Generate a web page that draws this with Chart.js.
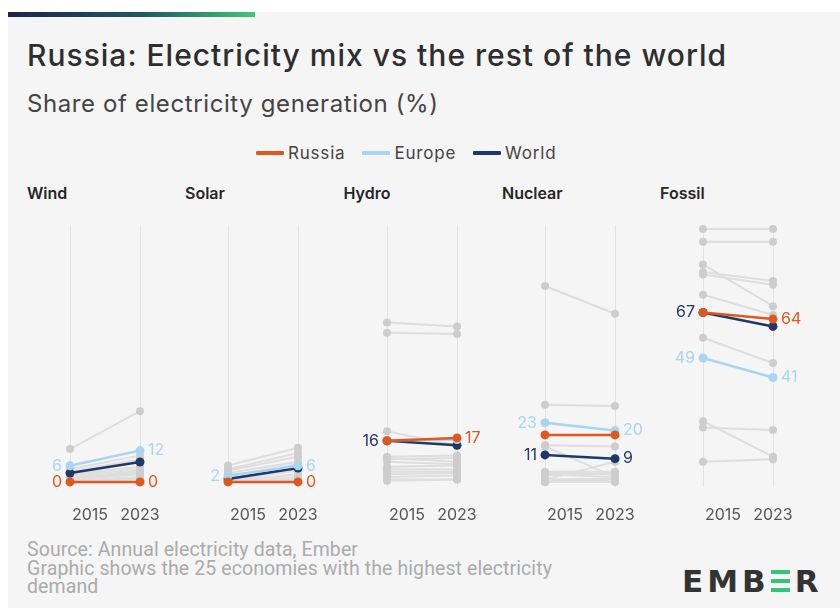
<!DOCTYPE html>
<html>
<head>
<meta charset="utf-8">
<script src="https://cdn.jsdelivr.net/npm/chart.js@4.4.1/dist/chart.umd.min.js"></script>
<style>
  body { margin: 0; background: #fff; font-family: Inter, "Noto Sans", sans-serif; }
  #card { position: absolute; left: 8px; top: 12px; width: 832px; height: 596px; background: #f5f5f5; }
  #bar { position: absolute; left: 8px; top: 12px; width: 247px; height: 5px;
         background: linear-gradient(90deg, #1d2450 0%, #1f5a63 55%, #44c479 100%); }
  .abs { position: absolute; white-space: nowrap; }
  #title { left: 27px; top: 37px; font-size: 30px; font-weight: 500; color: #2e2e2e; line-height: 36px; letter-spacing: 1px; }
  #subtitle { left: 27px; top: 89px; font-size: 24px; color: #444; line-height: 30px; letter-spacing: 0.6px; }
  #legend { left: 256px; top: 142px; font-size: 17px; color: #444; line-height: 22px; display: flex; letter-spacing: 0.8px; }
  #legend span.item { display: flex; align-items: center; margin-right: 17px; }
  #legend i { display: inline-block; width: 28px; height: 4px; border-radius: 1px; margin-right: 4px; }
  .ptitle { top: 183px; font-size: 16px; font-weight: 600; color: #262626; line-height: 20px; }
  canvas { position: absolute; top: 210px; }
  #foot { left: 27px; top: 541px; font-family: Roboto, sans-serif; font-size: 19.5px; color: #ababab;
          line-height: 18.5px; letter-spacing: 0.1px; }
  #logo { left: 682px; top: 563px; font-family: "DejaVu Sans", sans-serif; font-weight: bold;
          font-size: 31px; color: #333; letter-spacing: 4px; line-height: 36px; }
  #logo .e { color: transparent;
             background: repeating-linear-gradient(180deg, #35c47a 0 4px, transparent 4px 9px);
             background-size: 19px 23px; background-repeat: no-repeat; background-position: 1px 7px; }
</style>
</head>
<body>
<div id="card"></div>
<div id="bar"></div>
<div id="title" class="abs">Russia: Electricity mix vs the rest of the world</div>
<div id="subtitle" class="abs">Share of electricity generation (%)</div>
<div id="legend" class="abs"></div>
<div id="panels"></div>
<div id="foot" class="abs">Source: Annual electricity data, Ember<br>Graphic shows the 25 economies with the highest electricity<br>demand</div>
<div id="logo" class="abs">EMB<span class="e">E</span>R</div>

<script>
const years = [2015, 2023];
const panels = ['Wind', 'Solar', 'Hydro', 'Nuclear', 'Fossil'];
const seriesNames = ['Russia', 'Europe', 'World'];

// share of generation (%), [2015, 2023] per panel
const russia = [[0, 0], [0, 0], [16.3, 17.4], [18.6, 18.6], [67, 64.4]];
const europe = [[6.4, 12.4], [2.4, 6.4], [16.5, 16.8], [23.4, 20.3], [49, 41.3]];
const world = [[3.5, 7.9], [1.2, 5.5], [16.3, 14.5], [10.7, 9.2], [67, 61.5]];

// printed labels (null = not shown)
const russiaLabels = [[0, 0], [null, 0], [null, 17], [null, null], [null, 64]];
const europeLabels = [[6, 12], [2, 6], [null, null], [23, 20], [49, 41]];
const worldLabels = [[null, null], [null, null], [16, null], [11, 9], [67, null]];

// the other economies
const windOthers = [[13, 28], [5, 10.5], [4, 9], [3, 6], [2.5, 5], [2, 4], [1.5, 3.5], [1, 3], [0.5, 2], [0, 1.5], [0, 1], [1, 4.5]];
const solarOthers = [[6.5, 13.5], [5, 11.5], [4.5, 10], [3.5, 8], [2.5, 7], [1.5, 6], [1, 4.5], [0.5, 3], [0, 2], [0, 1], [3, 5]];
const hydroOthers = [[63, 61.5], [59, 58.5], [20, 14.5], [10, 10.5], [9.5, 8], [9, 9.5], [8, 7], [6, 6.5], [5, 5], [4, 4], [3, 3.5], [1, 1], [0.5, 1], [2, 2.5]];
const nuclearOthers = [[77.5, 66.5], [30.5, 30], [14.5, 14], [14, 2], [1, 8], [4, 4], [3.5, 3], [2.5, 3.5], [1, 1.5], [0.5, 1], [0, 0], [0, 0.5], [3, 2]];
const fossilOthers = [[100, 100], [95, 95], [86, 69.5], [82, 78], [83, 79.5], [74, 66], [57, 47], [24, 10], [21.5, 20.5], [8, 9]];
const others = [windOthers, solarOthers, hydroOthers, nuclearOthers, fossilOthers];

const colors = { Russia: '#e0581e', Europe: '#a8d6f0', World: '#1f3868' };
const grayLine = '#dedede';
const grayDot = '#cdcdcd';

// legend
const legendEl = document.getElementById('legend');
seriesNames.forEach(n => {
    const s = document.createElement('span');
    s.className = 'item';
    s.innerHTML = `<i style="background:${colors[n]}"></i>${n}`;
    legendEl.appendChild(s);
});

// vertical guides + year labels
const guides = {
    id: 'guides',
    beforeDatasetsDraw(chart) {
        const { ctx, chartArea, scales: { x } } = chart;
        ctx.save();
        ctx.strokeStyle = '#e2e2e2';
        ctx.lineWidth = 1;
        years.forEach(yr => {
            const px = Math.round(x.getPixelForValue(yr)) + 0.5;
            ctx.beginPath();
            ctx.moveTo(px, chartArea.top);
            ctx.lineTo(px, chartArea.bottom);
            ctx.stroke();
        });
        ctx.restore();
    },
    afterDraw(chart) {
        const { ctx, chartArea, scales: { x } } = chart;
        ctx.save();
        ctx.font = '16px Inter';
        ctx.fillStyle = '#555';
        ctx.textBaseline = 'middle';
        ctx.textAlign = 'left';
        ctx.fillText(String(years[0]), x.getPixelForValue(years[0]) + 2, chartArea.bottom + 28);
        ctx.textAlign = 'center';
        ctx.fillText(String(years[1]), x.getPixelForValue(years[1]), chartArea.bottom + 28);
        ctx.restore();
    }
};

// value labels at line ends
const endLabels = {
    id: 'endLabels',
    afterDatasetsDraw(chart, args, opts) {
        const { ctx, scales: { x, y } } = chart;
        ctx.save();
        ctx.font = '16px Inter';
        ctx.textBaseline = 'middle';
        opts.items.forEach(it => {
            ctx.fillStyle = it.color;
            const left = it.k === 0;
            ctx.textAlign = left ? 'right' : 'left';
            const px = x.getPixelForValue(years[it.k]) + (left ? -8 : 8);
            ctx.fillText(String(it.text), px, y.getPixelForValue(it.value));
        });
        ctx.restore();
    }
};

const lineX = [70, 228, 386.5, 545, 703];
const panelsEl = document.getElementById('panels');

panels.forEach((name, i) => {
    const t = document.createElement('div');
    t.className = 'abs ptitle';
    t.style.left = (lineX[i] - 43) + 'px';
    t.textContent = name;
    panelsEl.appendChild(t);

    const cv = document.createElement('canvas');
    cv.width = 158;
    cv.height = 320;
    cv.style.left = (lineX[i] - 60) + 'px';
    panelsEl.appendChild(cv);

    const toPts = pair => years.map((yr, k) => ({ x: yr, y: pair[k] }));

    const datasets = others[i].map(pair => ({
        data: toPts(pair),
        borderColor: grayLine,
        backgroundColor: grayDot,
        borderWidth: 2,
        pointRadius: 4,
        pointBorderWidth: 0,
        order: 10,
        clip: false
    }));
    const main = { World: world, Europe: europe, Russia: russia };
    const rank = { Russia: 1, Europe: 2, World: 3 };
    ['World', 'Europe', 'Russia'].forEach(n => {
        datasets.push({
            data: toPts(main[n][i]),
            borderColor: colors[n],
            backgroundColor: colors[n],
            borderWidth: 2.5,
            pointRadius: 4.5,
            pointBorderWidth: 0,
            order: rank[n],
            clip: false
        });
    });

    const items = [];
    const lab = { Russia: russiaLabels, Europe: europeLabels, World: worldLabels };
    seriesNames.forEach(n => {
        [0, 1].forEach(k => {
            const txt = lab[n][i][k];
            if (txt !== null) items.push({ k, text: txt, value: main[n][i][k], color: colors[n] });
        });
    });

    new Chart(cv, {
        type: 'line',
        data: { datasets },
        options: {
            responsive: false,
            animation: false,
            layout: { padding: { left: 60, right: 28, top: 15, bottom: 43 } },
            plugins: { legend: { display: false }, tooltip: { enabled: false }, endLabels: { items } },
            scales: {
                x: { type: 'linear', min: 2015, max: 2023, display: false },
                y: { min: -2, max: 101.6, display: false }
            }
        },
        plugins: [guides, endLabels]
    });
});
</script>
</body>
</html>
